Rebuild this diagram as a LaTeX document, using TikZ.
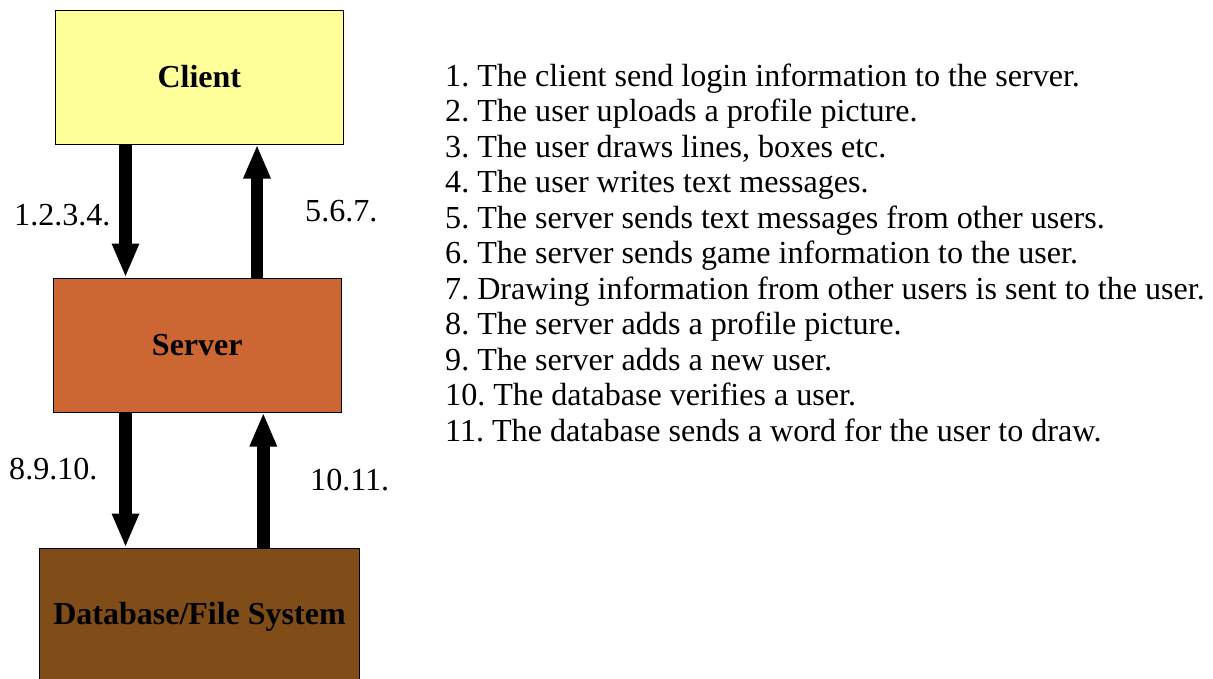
\documentclass[tikz,border=0pt]{standalone}
\usepackage{fontspec}
\setmainfont{Liberation Serif}
\usetikzlibrary{arrows.meta}
\definecolor{clientcol}{RGB}{255,255,153}
\definecolor{servercol}{RGB}{204,102,51}
\definecolor{dbcol}{RGB}{128,77,25}
\tikzset{
  box/.style={draw=black, line width=1pt, rectangle, inner sep=0pt, font=\fontsize{32}{36}\selectfont\bfseries},
  bigarrow/.style={draw=black, line width=12.5pt, -{Triangle[width=25pt,length=34pt]}},
  lbl/.style={anchor=base west, inner sep=0pt, font=\fontsize{32.1}{36}\selectfont\frenchspacing},
}
\begin{document}
\begin{tikzpicture}[x=1pt,y=-1pt]
\useasboundingbox (0,0) rectangle (1213,678);
\clip (0,0) rectangle (1213,678);
\fill[white] (0,0) rectangle (1213,678);
\node[box, fill=clientcol, minimum width=288pt, minimum height=134pt] (client) at (199.3,77) {Client};
\node[box, fill=servercol, minimum width=288pt, minimum height=134pt] (server) at (197.3,345) {Server};
\node[box, fill=dbcol, minimum width=319.6pt, minimum height=138pt] (db) at (199.5,617) {Database/File System};
\coordinate (xa) at (125.5,0);
\coordinate (xb) at (257,0);
\coordinate (xc) at (125.5,0);
\coordinate (xd) at (263.3,0);
\draw[bigarrow] (client.south -| xa) -- (server.north -| xa);
\draw[bigarrow] (server.north -| xb) -- (client.south -| xb);
\draw[bigarrow] (server.south -| xc) -- (db.north -| xc);
\draw[bigarrow] (db.north -| xd) -- (server.south -| xd);
\node[lbl] (la) at (14,225) {1.2.3.4.};
\node[lbl] (lb) at (305,221) {5.6.7.};
\node[lbl] (lc) at (9,479) {8.9.10.};
\node[lbl] (ld) at (310,490) {10.11.};
\foreach \t [count=\i] in {
  {1. The client send login information to the server.},
  {2. The user uploads a profile picture.},
  {3. The user draws lines, boxes etc.},
  {4. The user writes text messages.},
  {5. The server sends text messages from other users.},
  {6. The server sends game information to the user.},
  {7. Drawing information from other users is sent to the user.},
  {8. The server adds a profile picture.},
  {9. The server adds a new user.},
  {10. The database verifies a user.},
  {11. The database sends a word for the user to draw.}}
  \node[lbl] (item\i) at (445,{86+(\i-1)*35.5}) {\t};
\end{tikzpicture}
\end{document}
